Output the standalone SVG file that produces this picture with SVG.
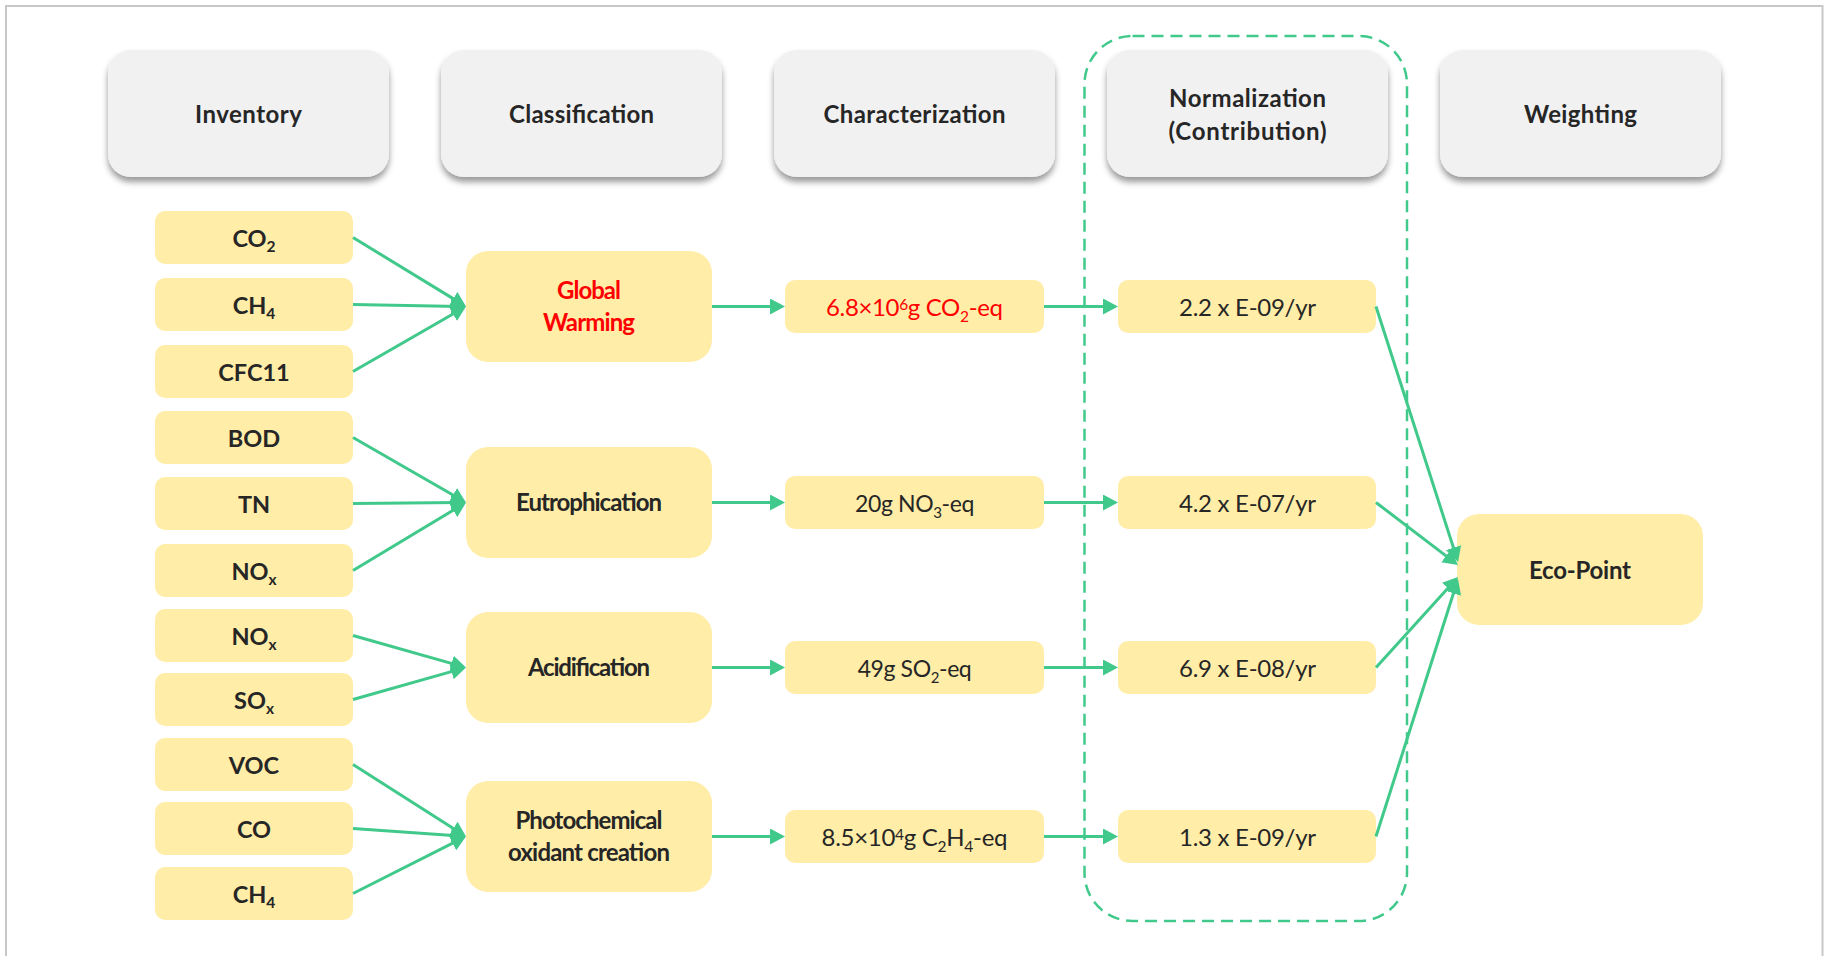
<svg xmlns="http://www.w3.org/2000/svg" width="1827" height="956" viewBox="0 0 1827 956">
  <style>
    .t { font-family: Lato, "Liberation Sans", sans-serif; fill: #262626; text-anchor: middle; }
    .hd { font-size: 24px; font-weight: 700; }
    .cl { font-size: 24px; font-weight: 700; }
    .inv { font-size: 23.5px; font-weight: 700; }
    .val { font-size: 24px; font-weight: 400; }
    .val-s { font-size: 23px; font-weight: 400; letter-spacing: -0.4px; }
    .red { fill: #FF0000; }
    .hdr-box { fill: #F1F1F1; filter: url(#hdrShadow); }
    .ybox { fill: #FFEDA8; }
    .conn line { stroke: #40C98A; stroke-width: 3; marker-end: url(#arrowHead); }
    .frame { fill: none; stroke: #C8C8C8; stroke-width: 2; }
    .group-outline { fill: none; stroke: #40C98A; stroke-width: 2.5; stroke-dasharray: 12 7; }
  </style>
  <defs>
    <filter id="hdrShadow" x="-10%" y="-15%" width="120%" height="140%">
      <feDropShadow dx="0" dy="5" stdDeviation="3" flood-color="#000000" flood-opacity="0.4"/>
    </filter>
    <marker id="arrowHead" markerUnits="userSpaceOnUse" markerWidth="15" markerHeight="16" refX="9" refY="8" orient="auto">
      <path d="M0,0 L15,8 L0,16 Z" fill="#40C98A"/>
    </marker>
  </defs>

  <!-- page frame -->
  <rect class="frame" x="6" y="6" width="1816.5" height="1000"/>

  <!-- stage headers -->
  <g id="hdr-inventory">
    <rect class="hdr-box" x="108" y="50" width="281" height="127" rx="23"/>
    <text class="t hd" x="248.5" y="122.5" textLength="107">Inventory</text>
  </g>
  <g id="hdr-classification">
    <rect class="hdr-box" x="441" y="50" width="281" height="127" rx="23"/>
    <text class="t hd" x="581.5" y="122.5" textLength="145">Classification</text>
  </g>
  <g id="hdr-characterization">
    <rect class="hdr-box" x="774" y="50" width="281" height="127" rx="23"/>
    <text class="t hd" x="914.5" y="122.5" textLength="182">Characterization</text>
  </g>
  <g id="hdr-normalization">
    <rect class="hdr-box" x="1107" y="50" width="281" height="127" rx="23"/>
    <text class="t hd" x="1247.5" y="106.5" textLength="157">Normalization</text>
    <text class="t hd" x="1247.5" y="139.5" textLength="158">(Contribution)</text>
  </g>
  <g id="hdr-weighting">
    <rect class="hdr-box" x="1440" y="50" width="281" height="127" rx="23"/>
    <text class="t hd" x="1580.5" y="122.5" textLength="113">Weighting</text>
  </g>

  <!-- normalization group outline -->
  <g id="normalization-group">
    <rect class="group-outline" x="1084.5" y="36" width="322.5" height="885" rx="48"/>
  </g>

  <!-- inventory items -->
  <g id="inv-co2">
    <rect class="ybox" x="155" y="211" width="198" height="53" rx="10"/>
    <text class="t inv" x="254" y="246.5">CO<tspan font-size="15.5" dy="5">2</tspan></text>
  </g>
  <g id="inv-ch4-a">
    <rect class="ybox" x="155" y="278" width="198" height="53" rx="10"/>
    <text class="t inv" x="254" y="313.5">CH<tspan font-size="15.5" dy="5">4</tspan></text>
  </g>
  <g id="inv-cfc11">
    <rect class="ybox" x="155" y="345" width="198" height="53" rx="10"/>
    <text class="t inv" x="254" y="380.5">CFC11</text>
  </g>
  <g id="inv-bod">
    <rect class="ybox" x="155" y="411" width="198" height="53" rx="10"/>
    <text class="t inv" x="254" y="446.5">BOD</text>
  </g>
  <g id="inv-tn">
    <rect class="ybox" x="155" y="477" width="198" height="53" rx="10"/>
    <text class="t inv" x="254" y="512.5">TN</text>
  </g>
  <g id="inv-nox-a">
    <rect class="ybox" x="155" y="544" width="198" height="53" rx="10"/>
    <text class="t inv" x="254" y="579.5">NO<tspan font-size="15.5" dy="5">x</tspan></text>
  </g>
  <g id="inv-nox-b">
    <rect class="ybox" x="155" y="609" width="198" height="53" rx="10"/>
    <text class="t inv" x="254" y="644.5">NO<tspan font-size="15.5" dy="5">x</tspan></text>
  </g>
  <g id="inv-sox">
    <rect class="ybox" x="155" y="673" width="198" height="53" rx="10"/>
    <text class="t inv" x="254" y="708.5">SO<tspan font-size="15.5" dy="5">x</tspan></text>
  </g>
  <g id="inv-voc">
    <rect class="ybox" x="155" y="738" width="198" height="53" rx="10"/>
    <text class="t inv" x="254" y="773.5">VOC</text>
  </g>
  <g id="inv-co">
    <rect class="ybox" x="155" y="802" width="198" height="53" rx="10"/>
    <text class="t inv" x="254" y="837.5">CO</text>
  </g>
  <g id="inv-ch4-b">
    <rect class="ybox" x="155" y="867" width="198" height="53" rx="10"/>
    <text class="t inv" x="254" y="902.5">CH<tspan font-size="15.5" dy="5">4</tspan></text>
  </g>

  <!-- impact categories -->
  <g id="cat-global-warming">
    <rect class="ybox" x="466" y="251" width="246" height="111" rx="22"/>
    <text class="t cl red" x="589" y="298.5" textLength="64">Global</text>
    <text class="t cl red" x="589" y="330.5" textLength="92">Warming</text>
  </g>
  <g id="cat-eutrophication">
    <rect class="ybox" x="466" y="447" width="246" height="111" rx="22"/>
    <text class="t cl" x="589" y="511" textLength="146">Eutrophication</text>
  </g>
  <g id="cat-acidification">
    <rect class="ybox" x="466" y="612" width="246" height="111" rx="22"/>
    <text class="t cl" x="589" y="676" textLength="122">Acidification</text>
  </g>
  <g id="cat-photochemical">
    <rect class="ybox" x="466" y="781" width="246" height="111" rx="22"/>
    <text class="t cl" x="589" y="828.5" textLength="147">Photochemical</text>
    <text class="t cl" x="589" y="860.5" textLength="162">oxidant creation</text>
  </g>

  <!-- characterization results -->
  <g id="char-gw">
    <rect class="ybox" x="785" y="280" width="259" height="53" rx="10"/>
    <text class="t val red" x="914.5" y="315.5" textLength="177">6.8×10<tspan font-size="15.5" dy="-6">6</tspan><tspan dy="6">g CO</tspan><tspan font-size="15.5" dy="6">2</tspan><tspan dy="-6">-eq</tspan></text>
  </g>
  <g id="char-eu">
    <rect class="ybox" x="785" y="476" width="259" height="53" rx="10"/>
    <text class="t val-s" x="914.5" y="511.5">20g NO<tspan font-size="15" dy="6">3</tspan><tspan dy="-6">-eq</tspan></text>
  </g>
  <g id="char-ac">
    <rect class="ybox" x="785" y="641" width="259" height="53" rx="10"/>
    <text class="t val-s" x="914.5" y="676.5">49g SO<tspan font-size="15" dy="6">2</tspan><tspan dy="-6">-eq</tspan></text>
  </g>
  <g id="char-pc">
    <rect class="ybox" x="785" y="810" width="259" height="53" rx="10"/>
    <text class="t val" x="914.5" y="845.5" textLength="186">8.5×10<tspan font-size="15.5" dy="-6">4</tspan><tspan dy="6">g C</tspan><tspan font-size="15.5" dy="6">2</tspan><tspan dy="-6">H</tspan><tspan font-size="15.5" dy="6">4</tspan><tspan dy="-6">-eq</tspan></text>
  </g>

  <!-- normalization results -->
  <g id="norm-gw">
    <rect class="ybox" x="1118" y="280" width="258" height="53" rx="10"/>
    <text class="t val" x="1247.5" y="315.5" textLength="137">2.2 x E-09/yr</text>
  </g>
  <g id="norm-eu">
    <rect class="ybox" x="1118" y="476" width="258" height="53" rx="10"/>
    <text class="t val" x="1247.5" y="511.5" textLength="137">4.2 x E-07/yr</text>
  </g>
  <g id="norm-ac">
    <rect class="ybox" x="1118" y="641" width="258" height="53" rx="10"/>
    <text class="t val" x="1247.5" y="676.5" textLength="137">6.9 x E-08/yr</text>
  </g>
  <g id="norm-pc">
    <rect class="ybox" x="1118" y="810" width="258" height="53" rx="10"/>
    <text class="t val" x="1247.5" y="845.5" textLength="137">1.3 x E-09/yr</text>
  </g>

  <!-- weighting result -->
  <g id="eco-point">
    <rect class="ybox" x="1457" y="514" width="246" height="111" rx="22"/>
    <text class="t hd" x="1580" y="578.5" textLength="102">Eco-Point</text>
  </g>

  <!-- connectors -->
  <g id="connectors" class="conn">
    <!-- inventory to categories -->
    <line x1="353" y1="237.5" x2="460.9" y2="303.4"/>
    <line x1="353" y1="304.5" x2="460" y2="306.4"/>
    <line x1="353" y1="371.5" x2="460.8" y2="309.5"/>
    <line x1="353" y1="437.5" x2="460.8" y2="499.5"/>
    <line x1="353" y1="503.5" x2="460" y2="502.5"/>
    <line x1="353" y1="570.5" x2="460.9" y2="505.6"/>
    <line x1="353" y1="635.5" x2="460.2" y2="665.9"/>
    <line x1="353" y1="699.5" x2="460.2" y2="669.1"/>
    <line x1="353" y1="764.5" x2="460.9" y2="833.3"/>
    <line x1="353" y1="828.5" x2="460" y2="836.1"/>
    <line x1="353" y1="893.5" x2="460.6" y2="839.2"/>
    <!-- categories to characterization -->
    <line x1="712" y1="306.5" x2="779" y2="306.5"/>
    <line x1="712" y1="502.5" x2="779" y2="502.5"/>
    <line x1="712" y1="667.5" x2="779" y2="667.5"/>
    <line x1="712" y1="836.5" x2="779" y2="836.5"/>
    <!-- characterization to normalization -->
    <line x1="1044" y1="306.5" x2="1112" y2="306.5"/>
    <line x1="1044" y1="502.5" x2="1112" y2="502.5"/>
    <line x1="1044" y1="667.5" x2="1112" y2="667.5"/>
    <line x1="1044" y1="836.5" x2="1112" y2="836.5"/>
    <!-- normalization to eco-point -->
    <line x1="1376" y1="306.5" x2="1456.2" y2="556.3"/>
    <line x1="1376" y1="502.5" x2="1453.2" y2="561.4"/>
    <line x1="1376" y1="667.5" x2="1454" y2="581.4"/>
    <line x1="1376" y1="836.5" x2="1456.2" y2="584.7"/>
  </g>
</svg>
